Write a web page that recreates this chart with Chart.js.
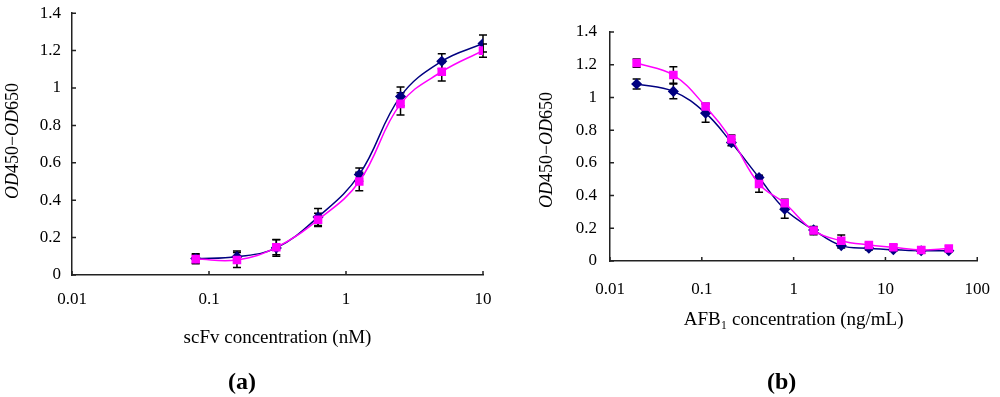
<!DOCTYPE html>
<html>
<head>
<meta charset="utf-8">
<script src="https://cdn.jsdelivr.net/npm/chart.js@4.4.1/dist/chart.umd.min.js"></script>
<style>
body { margin: 0; background: #fff; width: 1000px; height: 397px; position: relative; overflow: hidden; }
.box { position: absolute; top: 0; width: 500px; height: 397px; }
.tag { position: absolute; top: 368px; line-height: 28px; font: bold 24px "Liberation Serif", serif; color: #000; }
</style>
</head>
<body>
<div class="box" style="left:0"><canvas id="canvas1" width="500" height="397"></canvas></div>
<div class="box" style="left:500px"><canvas id="canvas2" width="500" height="397"></canvas></div>
<div class="tag" style="left:228px">(a)</div>
<div class="tag" style="left:767px">(b)</div>
<script>
// panel (a): scFv titration
var concA = [0.08, 0.16, 0.31, 0.625, 1.25, 2.5, 5, 10];
var blueA = [0.088, 0.098, 0.145, 0.31, 0.537, 0.955, 1.143, 1.238];
var pinkA = [0.085, 0.08, 0.148, 0.295, 0.50, 0.915, 1.087, 1.20];
var errBlueA = [0.025, 0.03, 0.045, 0.045, 0.035, 0.05, 0.04, 0.045];
var errPinkA = [0.025, 0.04, 0.04, 0.035, 0.05, 0.06, 0.05, 0.035];
var xTicksA = [0.01, 0.1, 1, 10];

// panel (b): AFB1 competition
var concB = [0.0195, 0.049, 0.11, 0.21, 0.42, 0.8, 1.65, 3.3, 6.6, 12.2, 24.5, 49];
var blueB = [1.082, 1.037, 0.904, 0.724, 0.51, 0.316, 0.19, 0.094, 0.078, 0.069, 0.063, 0.063];
var pinkB = [1.21, 1.137, 0.945, 0.745, 0.471, 0.353, 0.186, 0.124, 0.098, 0.084, 0.067, 0.076];
var errBlueB = [0.03, 0.045, 0.055, 0.02, 0.015, 0.055, 0.02, 0.015, 0.01, 0.01, 0.015, 0.01];
var errPinkB = [0.025, 0.05, 0.02, 0.025, 0.05, 0.025, 0.025, 0.035, 0.015, 0.015, 0.02, 0.015];
var xTicksB = [0.01, 0.1, 1, 10, 100];

var yTicks = [0, 0.2, 0.4, 0.6, 0.8, 1, 1.2, 1.4];

var FONT = '"Liberation Serif", "DejaVu Serif", serif';
var BLUE = '#000080';
var PINK = '#ff00ff';

function toPoints(xs, ys) {
    return xs.map(function (x, i) { return {x: x, y: ys[i]}; });
}

var errorBars = {
    id: 'errorBars',
    beforeDatasetsDraw: function (chart) {
        var ctx = chart.ctx;
        var xs = chart.scales.x, ys = chart.scales.y;
        ctx.save();
        ctx.strokeStyle = '#000';
        ctx.lineWidth = 1.5;
        chart.data.datasets.forEach(function (ds) {
            ds.data.forEach(function (p, i) {
                var e = ds.errors[i];
                var px = xs.getPixelForValue(p.x);
                var top = ys.getPixelForValue(p.y + e);
                var bot = ys.getPixelForValue(p.y - e);
                ctx.beginPath();
                ctx.moveTo(px, top); ctx.lineTo(px, bot);
                ctx.moveTo(px - 4, top); ctx.lineTo(px + 4, top);
                ctx.moveTo(px - 4, bot); ctx.lineTo(px + 4, bot);
                ctx.stroke();
            });
        });
        ctx.restore();
    }
};

// inside tick marks and the mixed italic y title
var axisExtras = {
    id: 'axisExtras',
    afterDraw: function (chart, args, opts) {
        var ctx = chart.ctx, area = chart.chartArea;
        var xs = chart.scales.x, ys = chart.scales.y;
        ctx.save();
        ctx.strokeStyle = '#222';
        ctx.lineWidth = 1.5;
        ctx.beginPath();
        ys.ticks.forEach(function (t, i) {
            var py = ys.getPixelForTick(i);
            ctx.moveTo(area.left, py); ctx.lineTo(area.left + 4, py);
        });
        xs.ticks.forEach(function (t, i) {
            var px = xs.getPixelForTick(i);
            ctx.moveTo(px, area.bottom); ctx.lineTo(px, area.bottom - 4);
        });
        ctx.stroke();

        var parts = [['OD', true], ['450\u2212', false], ['OD', true], ['650', false]];
        var size = 18;
        var total = 0;
        parts.forEach(function (p) {
            ctx.font = (p[1] ? 'italic ' : '') + size + 'px ' + FONT;
            total += ctx.measureText(p[0]).width;
        });
        ctx.translate(opts.titleX, opts.titleY);
        ctx.rotate(-Math.PI / 2);
        ctx.fillStyle = '#000';
        ctx.textBaseline = 'middle';
        ctx.textAlign = 'left';
        var cx = -total / 2;
        parts.forEach(function (p) {
            ctx.font = (p[1] ? 'italic ' : '') + size + 'px ' + FONT;
            ctx.fillText(p[0], cx, 0);
            cx += ctx.measureText(p[0]).width;
        });
        ctx.restore();
    }
};

function makeChart(canvas, p) {
    return new Chart(canvas, {
        type: 'line',
        data: {
            datasets: [{
                label: 'series 2',
                data: toPoints(p.conc, p.pink),
                errors: p.errPink,
                borderColor: PINK,
                backgroundColor: PINK,
                borderWidth: 1.5,
                pointStyle: 'rect',
                pointRadius: 5,
                tension: 0.4
            }, {
                label: 'series 1',
                data: toPoints(p.conc, p.blue),
                errors: p.errBlue,
                borderColor: BLUE,
                backgroundColor: BLUE,
                borderWidth: 1.5,
                pointStyle: 'rectRot',
                pointRadius: 4.5,
                tension: 0.4
            }]
        },
        options: {
            responsive: false,
            animation: false,
            layout: { padding: p.padding },
            scales: {
                x: {
                    type: 'logarithmic',
                    min: 0.01,
                    max: p.xTicks[p.xTicks.length - 1],
                    afterBuildTicks: function (s) { s.ticks = p.xTicks.map(function (v) { return {value: v}; }); },
                    afterFit: function (s) { s.height = p.xHeight; },
                    grid: { display: false },
                    border: { color: '#222', width: 1.5 },
                    ticks: {
                        autoSkip: false,
                        maxRotation: 0,
                        padding: p.xPad,
                        color: '#000',
                        font: { family: FONT, size: 17 },
                        callback: function (v) { return String(v); }
                    },
                    title: {
                        display: true,
                        text: p.xTitle,
                        color: '#000',
                        padding: 0,
                        font: { family: FONT, size: 19 }
                    }
                },
                y: {
                    min: 0,
                    max: 1.4,
                    afterBuildTicks: function (s) { s.ticks = yTicks.map(function (v) { return {value: v}; }); },
                    afterFit: function (s) { s.width = p.yWidth; },
                    grid: { display: false },
                    border: { color: '#222', width: 1.5 },
                    ticks: {
                        padding: p.yPad,
                        color: '#000',
                        font: { family: FONT, size: 17 },
                        callback: function (v) { return String(+v.toFixed(1)); }
                    }
                }
            },
            plugins: {
                legend: { display: false },
                tooltip: { enabled: false },
                axisExtras: { titleX: p.titleX, titleY: p.titleY }
            }
        },
        plugins: [errorBars, axisExtras]
    });
}

var myChart1 = makeChart(document.getElementById('canvas1'), {
    conc: concA, blue: blueA, pink: pinkA, errBlue: errBlueA, errPink: errPinkA,
    xTicks: xTicksA, xTitle: 'scFv concentration (nM)',
    padding: {left: 0, right: 17, top: 12, bottom: 48},
    xHeight: 74, yWidth: 72, xPad: 6, yPad: 3, titleX: 13, titleY: 141
});

var myChart2 = makeChart(document.getElementById('canvas2'), {
    conc: concB, blue: blueB, pink: pinkB, errBlue: errBlueB, errPink: errPinkB,
    xTicks: xTicksB, xTitle: 'AFB\u2081 concentration (ng/mL)',
    padding: {left: 0, right: 18, top: 32, bottom: 66},
    xHeight: 70, yWidth: 110, xPad: 10, yPad: 5, titleX: 47, titleY: 150
});
</script>
</body>
</html>
